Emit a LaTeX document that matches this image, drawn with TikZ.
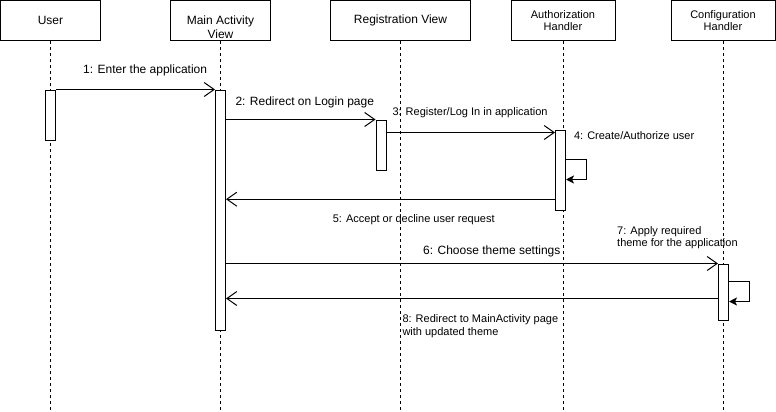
\documentclass[tikz,border=0pt]{standalone}
\usepackage{fontspec}
\setmainfont{Liberation Sans}
\usetikzlibrary{arrows.meta}

\begin{document}
\begin{tikzpicture}[x=1pt,y=-1pt,line width=1pt,
    head/.style={draw, minimum width=100pt, minimum height=40pt, inner sep=0pt, align=center, font=\fontsize{12}{13.5}\selectfont},
    headsmall/.style={head, minimum width=104pt, font=\fontsize{11}{12.4}\selectfont},
    bar/.style={draw, fill=white, minimum width=10pt, inner sep=0pt},
    lifeline/.style={line width=0.8pt, dash pattern=on 3pt off 3pt},
    msg/.style={-{Straight Barb[length=10pt,width=14pt]}},
    self/.style={-{Stealth[length=8pt,width=8pt,inset=2pt]}},
    big/.style={font=\fontsize{12}{14}\selectfont, inner sep=0pt},
    small/.style={font=\fontsize{11}{12.7}\selectfont, inner sep=0pt, align=left}]
  \useasboundingbox (0,0) rectangle (776,412);
  \coordinate (bottom) at (0,412);

  \node[head] (user) at (50.5,20.5) {User};
  \node[head, label={[big, align=center, yshift=-7pt]center:{Main Activity\\View}}] (main) at (220.5,20.5) {};
  \node[head, minimum width=140pt] (reg) at (400.5,20.5) {Registration View};
  \node[headsmall] (auth) at (563,20.5) {Authorization\\Handler};
  \node[headsmall] (cfg) at (723,20.5) {Configuration\\Handler};

  \draw[lifeline] (user.south) -- (user.south |- bottom);
  \draw[lifeline] (main.south) -- (main.south |- bottom);
  \draw[lifeline] (reg.south) -- (reg.south |- bottom);
  \draw[lifeline] (auth.south) -- (auth.south |- bottom);
  \draw[lifeline] (cfg.south) -- (cfg.south |- bottom);

  \node[bar, minimum height=50pt] (userBar) at (50.5,115) {};
  \node[bar, minimum height=240pt] (mainBar) at (220.5,210) {};
  \node[bar, minimum height=50pt] (regBar) at (381,145) {};
  \node[bar, minimum height=80pt] (authBar) at (560.5,170) {};
  \node[bar, minimum height=56pt] (cfgBar) at (723.5,292) {};

  \draw[msg] (userBar.north east) -- (mainBar.north west);
  \draw[msg] (mainBar.east |- regBar.north) -- (regBar.north west);
  \draw[msg] ([yshift=-13pt]regBar.north east) -- ([yshift=-3pt]authBar.north west);
  \draw[self] ([yshift=-30pt]authBar.north east) -- ++(20,0) -- ++(0,20) -- ([yshift=-50pt]authBar.north east);
  \draw[msg] ([yshift=11.3pt]authBar.south west) coordinate (m5) -- (m5 -| mainBar.east);
  \draw[msg] (mainBar.east |- cfgBar.north) -- (cfgBar.north west);
  \draw[self] ([yshift=-18pt]cfgBar.north east) -- ++(20,0) -- ++(0,20) -- ([yshift=-38pt]cfgBar.north east);
  \draw[msg] ([yshift=-35pt]cfgBar.north west) coordinate (m8) -- (m8 -| mainBar.east);

  \node[big, anchor=west] (l1) at (82.7,70) {1: Enter the application};
  \node[big, anchor=west] (l2) at (235,102) {2: Redirect on Login page};
  \node[small, anchor=west] (l3) at (392,113) {3: Register/Log In in application};
  \node[small, anchor=west] (l4) at (573.5,136) {4: Create/Authorize user};
  \node[small, anchor=west] (l5) at (332.3,219.3) {5: Accept or decline user request};
  \node[big, anchor=west] (l6) at (422.7,251.7) {6: Choose theme settings};
  \node[small, anchor=west] (l7) at (616.7,237.7) {7: Apply required\\theme for the application};
  \node[small, anchor=west] (l8) at (402,326.5) {8: Redirect to MainActivity page\\with updated theme};
\end{tikzpicture}
\end{document}
